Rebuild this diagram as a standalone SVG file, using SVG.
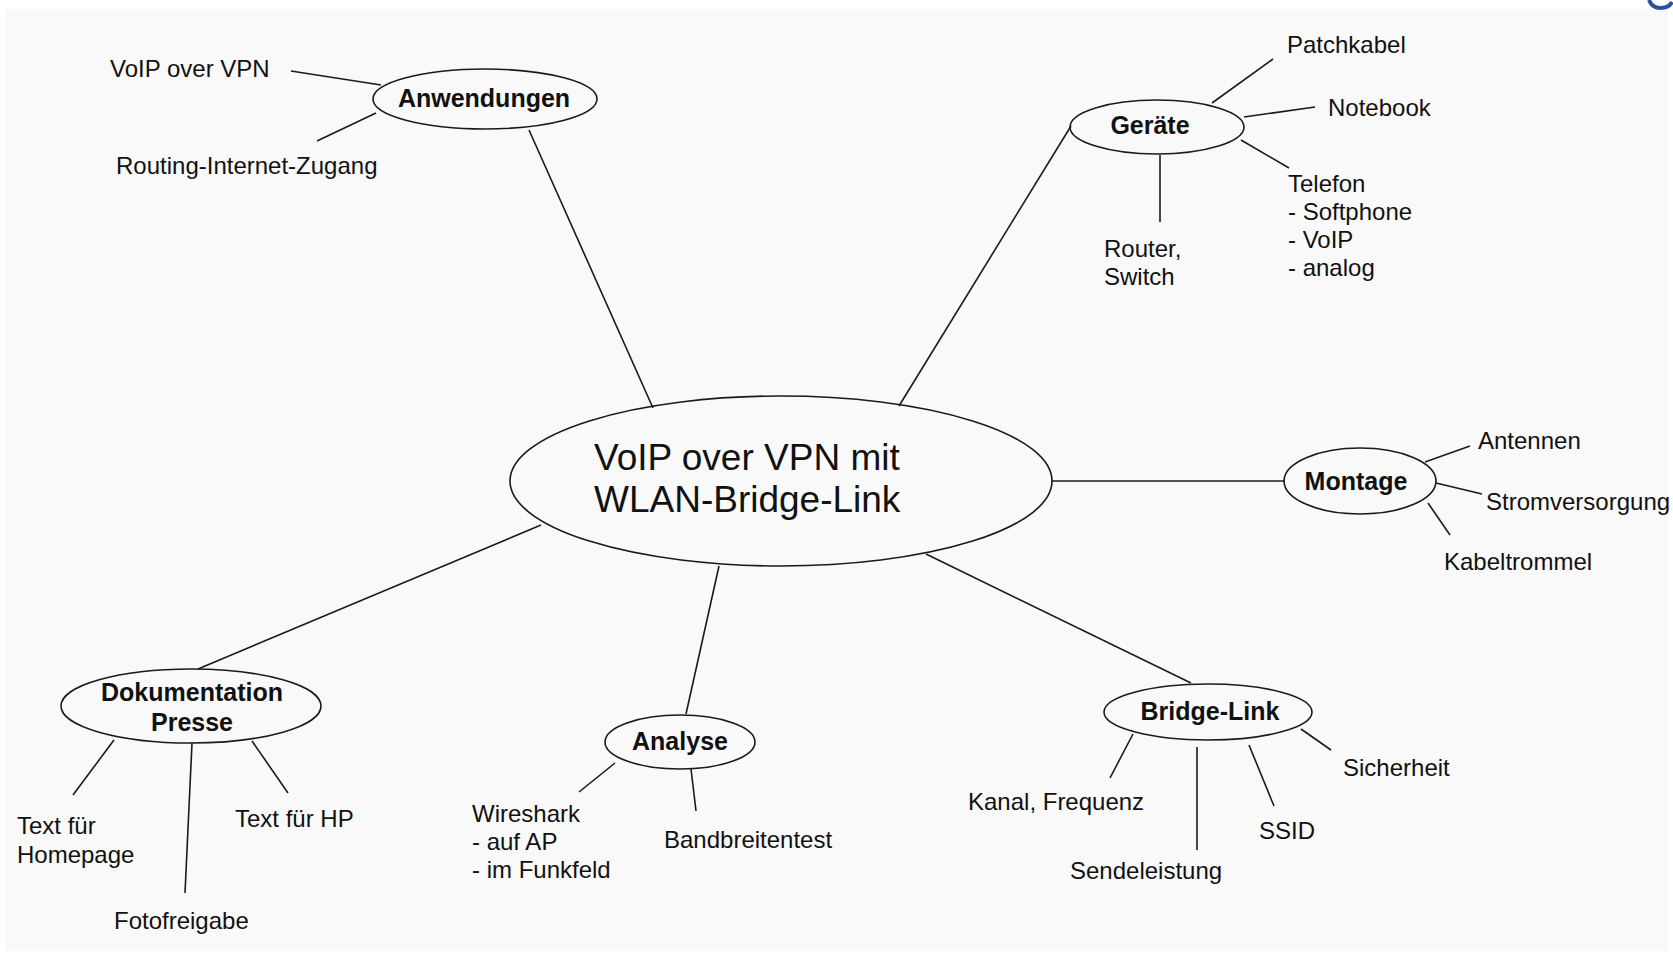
<svg xmlns="http://www.w3.org/2000/svg" width="1673" height="960" viewBox="0 0 1673 960">
<style>
.bg{fill:#f9f9f9}
.node{fill:none;stroke:#1a1a1a;stroke-width:1.6}
.conn line{stroke:#1a1a1a;stroke-width:1.6}
.t{font-family:"Liberation Sans",Arial,sans-serif;font-size:24px;fill:#111}
.b{font-family:"Liberation Sans",Arial,sans-serif;font-size:25px;font-weight:bold;fill:#111;text-anchor:middle}
.c{font-family:"Liberation Sans",Arial,sans-serif;font-size:37px;fill:#111}
</style>
<rect width="1673" height="960" fill="#ffffff"/>
<rect class="bg" x="5" y="9" width="1663" height="942"/>
<path d="M1649,0 Q1652,8 1661,8 Q1669,8 1672,2" fill="none" stroke="#2a4f9e" stroke-width="4"/>
<g id="connectors" class="conn">
<line x1="529" y1="130" x2="653" y2="408"/>
<line x1="291" y1="71" x2="381" y2="85"/>
<line x1="317" y1="141" x2="376" y2="113"/>
<line x1="899" y1="406" x2="1071" y2="126"/>
<line x1="1212" y1="103" x2="1273" y2="59"/>
<line x1="1244" y1="117" x2="1315" y2="107"/>
<line x1="1241" y1="140" x2="1289" y2="168"/>
<line x1="1160" y1="155" x2="1160" y2="222"/>
<line x1="1052" y1="481" x2="1285" y2="481"/>
<line x1="1425" y1="462" x2="1470" y2="446"/>
<line x1="1436" y1="483" x2="1482" y2="494"/>
<line x1="1428" y1="503" x2="1450" y2="535"/>
<line x1="926" y1="554" x2="1191" y2="683"/>
<line x1="1133" y1="734" x2="1110" y2="778"/>
<line x1="1197" y1="747" x2="1197" y2="850"/>
<line x1="1249" y1="745" x2="1274" y2="806"/>
<line x1="1301" y1="729" x2="1331" y2="750"/>
<line x1="719" y1="566" x2="686" y2="714"/>
<line x1="615" y1="763" x2="579" y2="792"/>
<line x1="691" y1="769" x2="696" y2="811"/>
<line x1="541" y1="525" x2="198" y2="669"/>
<line x1="114" y1="740" x2="73" y2="795"/>
<line x1="192" y1="743" x2="185" y2="893"/>
<line x1="252" y1="741" x2="288" y2="793"/>
</g>
<g id="center">
<ellipse class="node" cx="781" cy="481" rx="271" ry="85"/>
<text class="c" x="594" y="470">VoIP over VPN mit</text>
<text class="c" x="594" y="512">WLAN-Bridge-Link</text>
</g>
<g id="anwendungen">
<ellipse class="node" cx="485" cy="99" rx="112" ry="30"/>
<text class="b" x="484" y="107">Anwendungen</text>
</g>
<g id="voip-over-vpn"><text class="t" x="110" y="77">VoIP over VPN</text></g>
<g id="routing"><text class="t" x="116" y="174">Routing-Internet-Zugang</text></g>
<g id="geraete">
<ellipse class="node" cx="1157" cy="127" rx="87" ry="27"/>
<text class="b" x="1150" y="134">Geräte</text>
</g>
<g id="patchkabel"><text class="t" x="1287" y="53">Patchkabel</text></g>
<g id="notebook"><text class="t" x="1328" y="116">Notebook</text></g>
<g id="telefon"><text class="t" x="1288" y="192"><tspan x="1288">Telefon</tspan><tspan x="1288" dy="28">- Softphone</tspan><tspan x="1288" dy="28">- VoIP</tspan><tspan x="1288" dy="28">- analog</tspan></text></g>
<g id="router"><text class="t" x="1104" y="257"><tspan x="1104">Router,</tspan><tspan x="1104" dy="28">Switch</tspan></text></g>
<g id="montage">
<ellipse class="node" cx="1360" cy="481" rx="76" ry="33"/>
<text class="b" x="1356" y="490">Montage</text>
</g>
<g id="antennen"><text class="t" x="1478" y="449">Antennen</text></g>
<g id="strom"><text class="t" x="1486" y="510">Stromversorgung</text></g>
<g id="kabeltrommel"><text class="t" x="1444" y="570">Kabeltrommel</text></g>
<g id="bridge-link">
<ellipse class="node" cx="1208" cy="712" rx="104" ry="28"/>
<text class="b" x="1210" y="720">Bridge-Link</text>
</g>
<g id="kanal"><text class="t" x="968" y="810">Kanal, Frequenz</text></g>
<g id="sendeleistung"><text class="t" x="1070" y="879">Sendeleistung</text></g>
<g id="ssid"><text class="t" x="1259" y="839">SSID</text></g>
<g id="sicherheit"><text class="t" x="1343" y="776">Sicherheit</text></g>
<g id="analyse">
<ellipse class="node" cx="680" cy="742" rx="75" ry="27"/>
<text class="b" x="680" y="750">Analyse</text>
</g>
<g id="wireshark"><text class="t" x="472" y="822"><tspan x="472">Wireshark</tspan><tspan x="472" dy="28">- auf AP</tspan><tspan x="472" dy="28">- im Funkfeld</tspan></text></g>
<g id="bandbreitentest"><text class="t" x="664" y="848">Bandbreitentest</text></g>
<g id="dokumentation">
<ellipse class="node" cx="191" cy="706" rx="130" ry="37"/>
<text class="b" x="192" y="701">Dokumentation</text>
<text class="b" x="192" y="731">Presse</text>
</g>
<g id="text-homepage"><text class="t" x="17" y="834"><tspan x="17">Text für</tspan><tspan x="17" dy="29">Homepage</tspan></text></g>
<g id="fotofreigabe"><text class="t" x="114" y="929">Fotofreigabe</text></g>
<g id="text-hp"><text class="t" x="235" y="827">Text für HP</text></g>
</svg>
